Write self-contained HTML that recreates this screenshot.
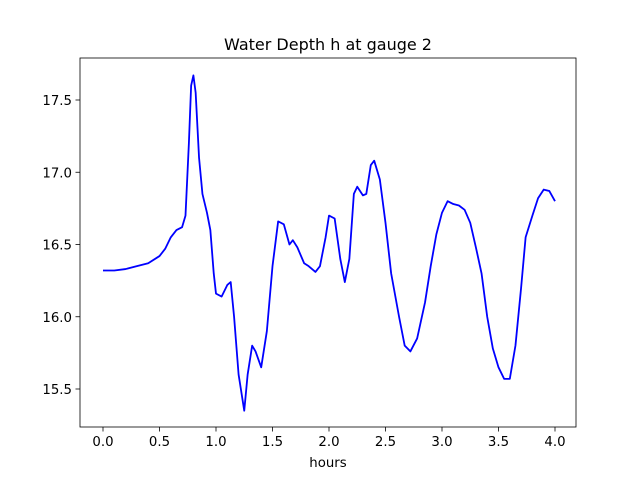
<!DOCTYPE html>
<html><head><meta charset="utf-8"><style>
body{margin:0;background:#fff}
svg{display:block;font-family:"DejaVu Sans","Liberation Sans",sans-serif}
</style></head><body>
<svg id="chart" width="640" height="480">
<rect x="0" y="0" width="640" height="480" fill="#fff"/>
<text x="328" y="50" text-anchor="middle" font-size="16">Water Depth h at gauge 2</text>
<g id="plot"></g>
<text x="328" y="467" text-anchor="middle" font-size="13.3">hours</text>
</svg>
<script>
const hours=[0,0.1,0.2,0.3,0.4,0.5,0.55,0.6,0.65,0.7,0.73,0.76,0.78,0.8,0.82,0.85,0.88,0.92,0.95,0.98,1.0,1.05,1.1,1.13,1.16,1.2,1.25,1.28,1.32,1.35,1.4,1.45,1.5,1.55,1.6,1.65,1.68,1.72,1.78,1.82,1.88,1.92,1.97,2.0,2.05,2.1,2.14,2.18,2.22,2.25,2.3,2.33,2.37,2.4,2.45,2.5,2.55,2.62,2.67,2.72,2.78,2.85,2.9,2.95,3.0,3.05,3.1,3.15,3.2,3.25,3.3,3.35,3.4,3.45,3.5,3.55,3.6,3.65,3.7,3.74,3.8,3.85,3.9,3.95,4.0];
const depth=[16.32,16.32,16.33,16.35,16.37,16.42,16.47,16.55,16.6,16.62,16.7,17.2,17.6,17.67,17.55,17.1,16.85,16.72,16.6,16.3,16.16,16.14,16.22,16.24,16.0,15.6,15.35,15.6,15.8,15.76,15.65,15.9,16.35,16.66,16.64,16.5,16.53,16.48,16.37,16.35,16.31,16.35,16.55,16.7,16.68,16.4,16.24,16.4,16.85,16.9,16.84,16.85,17.05,17.08,16.95,16.65,16.3,16.0,15.8,15.76,15.85,16.1,16.35,16.57,16.72,16.8,16.78,16.77,16.74,16.65,16.48,16.3,16.0,15.78,15.65,15.57,15.57,15.8,16.2,16.55,16.7,16.82,16.88,16.87,16.8];
const xTicks=[0,0.5,1,1.5,2,2.5,3,3.5,4];
const yTicks=[15.5,16.0,16.5,17.0,17.5];
const L=80,R=576,T=58,B=427;
const xs=v=>103+v*113;
const ys=v=>100+(17.5-v)*144.5;
const ns="http://www.w3.org/2000/svg";
const g=document.getElementById('plot');
function mk(t,a){const e=document.createElementNS(ns,t);for(const k in a)e.setAttribute(k,a[k]);g.appendChild(e);return e;}
xTicks.forEach(t=>{
  const l=mk('line',{x1:xs(t),x2:xs(t),y1:B,y2:B+4.5,stroke:'#000','stroke-width':0.8});
  
  
  const tx=mk('text',{x:xs(t),y:B+19,'text-anchor':'middle','font-size':13.3});
  tx.textContent=t.toFixed(1);
  
  
});
yTicks.forEach(t=>{
  const l=mk('line',{x1:L-4.5,x2:L,y1:ys(t),y2:ys(t),stroke:'#000','stroke-width':0.8});
  
  
  const tx=mk('text',{x:L-8,y:ys(t)+5,'text-anchor':'end','font-size':13.3});
  tx.textContent=t.toFixed(1);
  
  
});
const p=mk('polyline',{points:hours.map((h,i)=>xs(h)+','+ys(depth[i])).join(' '),fill:'none',stroke:'#0000ff','stroke-width':1.8,'stroke-linejoin':'round'});


const f=mk('rect',{x:L,y:T,width:R-L,height:B-T,fill:'none',stroke:'#000','stroke-width':0.8});


</script>
</body></html>
